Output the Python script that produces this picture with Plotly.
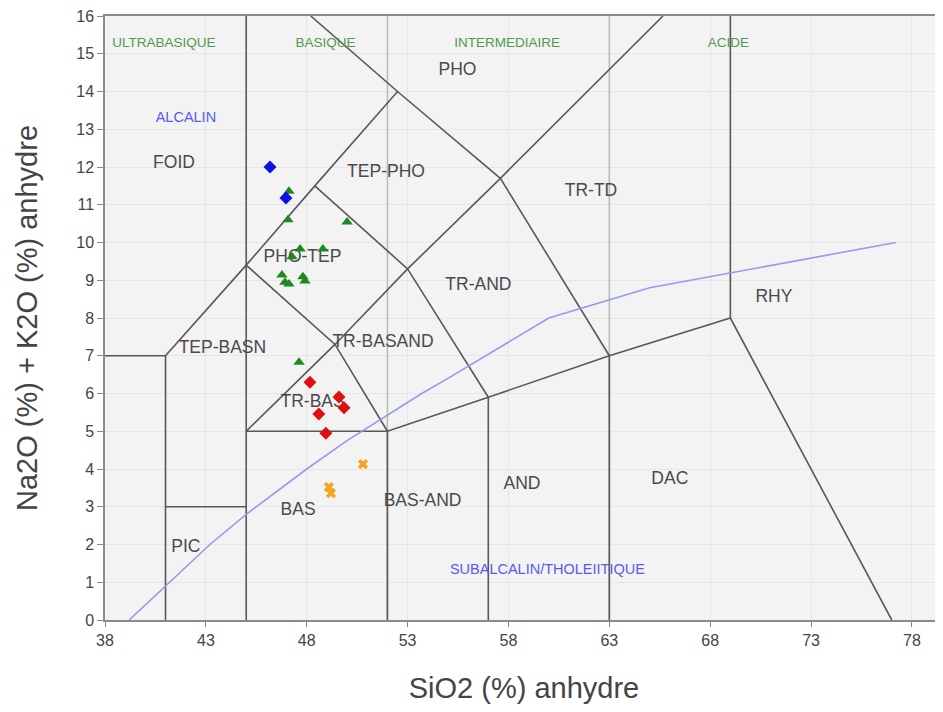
import plotly.graph_objects as go

# ---------------- data ----------------
# TAS boundary polylines (SiO2, Na2O+K2O)
bound_x = [
    [38, 41, 45, 48.4, 52.5, 57.6, 65.66],
    [48.2, 52.5],
    [41, 41],
    [41, 45],
    [45, 45],
    [45, 52, 57, 63, 69, 77.0],
    [52, 52],
    [57, 57],
    [63, 63],
    [69, 69],
    [45, 49.4, 53, 57.6],
    [45, 49.4, 52],
    [48.4, 53, 57],
    [57.6, 63],
]
bound_y = [
    [7, 7, 9.4, 11.5, 14, 11.7, 16],
    [16, 14],
    [0, 7],
    [3, 3],
    [0, 16],
    [5, 5, 5.9, 7, 8, 0],
    [0, 5],
    [0, 5.9],
    [0, 7],
    [8, 16],
    [5, 7.3, 9.3, 11.7],
    [9.4, 7.3, 5],
    [11.5, 9.3, 5.9],
    [11.7, 7],
]

# class separators (SiO2)
class_sep = [52, 63]

# alkaline / subalkaline curve
alk_x = [39.2, 40, 43.2, 45, 48, 50, 53.7, 55, 60, 65, 77.2]
alk_y = [0, 0.4, 2, 2.8, 4, 4.75, 6, 6.4, 8, 8.8, 10]

# samples
blue_x = [46.18, 46.97]
blue_y = [12.0, 11.18]
green_x = [47.12, 47.07, 50.0, 47.67, 48.8, 47.27, 46.77, 46.92, 47.12, 47.81, 47.91, 47.62]
green_y = [11.36, 10.6, 10.54, 9.83, 9.83, 9.62, 9.14, 8.95, 8.9, 9.09, 8.98, 6.83]
red_x = [48.16, 49.6, 49.85, 48.6, 48.95]
red_y = [6.30, 5.91, 5.62, 5.46, 4.95]
orange_x = [50.79, 49.1, 49.2]
orange_y = [4.13, 3.52, 3.36]

# field labels
field_names = ["PHO", "FOID", "TEP-PHO", "TR-TD", "PHO-TEP", "TR-AND", "RHY", "TEP-BASN",
               "TR-BASAND", "TR-BAS", "AND", "DAC", "BAS-AND", "BAS", "PIC"]
field_x = [55.47, 41.42, 51.93, 62.09, 47.79, 56.51, 71.16, 43.82,
           51.78, 48.29, 58.67, 66.0, 53.74, 47.57, 42.01]
field_y = [14.54, 12.1, 11.84, 11.34, 9.59, 8.87, 8.53, 7.2,
           7.36, 5.77, 3.58, 3.73, 3.13, 2.89, 1.93]

class_names = ["ULTRABASIQUE", "BASIQUE", "INTERMEDIAIRE", "ACIDE"]
class_x = [40.92, 48.93, 57.93, 68.9]
class_y = [15.28, 15.28, 15.28, 15.28]

series_names = ["ALCALIN", "SUBALCALIN/THOLEIITIQUE"]
series_x = [42.01, 59.93]
series_y = [13.3, 1.32]

x_ticks = [38, 43, 48, 53, 58, 63, 68, 73, 78]
y_ticks = list(range(0, 17))

# ---------------- figure ----------------
fig = go.Figure()

# class separators (green)
for xv in class_sep:
    fig.add_trace(go.Scatter(x=[xv, xv], y=[0, 16], mode="lines",
                             line=dict(color="#a9c3a9", width=1.5),
                             hoverinfo="skip", showlegend=False))

# TAS boundaries
bx, by = [], []
for xs, ys in zip(bound_x, bound_y):
    bx += xs + [None]
    by += ys + [None]
fig.add_trace(go.Scatter(x=bx, y=by, mode="lines",
                         line=dict(color="#585858", width=1.6),
                         hoverinfo="skip", showlegend=False))

# alkaline curve
fig.add_trace(go.Scatter(x=alk_x, y=alk_y, mode="lines",
                         line=dict(color="#9898ee", width=1.6),
                         hoverinfo="skip", showlegend=False))

# labels
fig.add_trace(go.Scatter(x=field_x, y=field_y, mode="text", text=field_names,
                         textfont=dict(family="Liberation Sans, Arial", size=17.5, color="#4a4a4a"),
                         hoverinfo="skip", showlegend=False))
fig.add_trace(go.Scatter(x=class_x, y=class_y, mode="text", text=class_names,
                         textfont=dict(family="Liberation Sans, Arial", size=13.5, color="#4f9a4f"),
                         hoverinfo="skip", showlegend=False))
fig.add_trace(go.Scatter(x=series_x, y=series_y, mode="text", text=series_names,
                         textfont=dict(family="Liberation Sans, Arial", size=14.5, color="#5a5af0"),
                         hoverinfo="skip", showlegend=False))

# samples
fig.add_trace(go.Scatter(x=green_x, y=green_y, mode="markers",
                         marker=dict(symbol="triangle-up", size=10, color="#1c8a1c"),
                         showlegend=False))
fig.add_trace(go.Scatter(x=blue_x, y=blue_y, mode="markers",
                         marker=dict(symbol="diamond", size=10, color="#1010e6"),
                         showlegend=False))
fig.add_trace(go.Scatter(x=red_x, y=red_y, mode="markers",
                         marker=dict(symbol="diamond", size=10, color="#e01010"),
                         showlegend=False))
fig.add_trace(go.Scatter(x=orange_x, y=orange_y, mode="markers",
                         marker=dict(symbol="x", size=9, color="#f2a520"),
                         showlegend=False))

axis_font = dict(family="Liberation Sans, Arial", size=16, color="#444444")
title_font = dict(family="Liberation Sans, Arial", size=29, color="#444444")
fig.update_layout(
    width=935, height=696,
    margin=dict(l=97, r=0, t=8, b=84),
    paper_bgcolor="white",
    plot_bgcolor="#f3f3f3",
    showlegend=False,
    xaxis=dict(range=[38, 79.54], tickvals=x_ticks, ticks="outside", ticklen=5,
               tickcolor="#888888", tickfont=axis_font, automargin=False,
               ticklabeloverflow="allow",
               showgrid=True, gridcolor="#e6e6e6", gridwidth=1,
               showline=True, linecolor="#8a8a8a", linewidth=1.5, mirror=True,
               zeroline=False,
               title=dict(text="SiO2 (%) anhydre", standoff=34, font=title_font)),
    yaxis=dict(range=[0, 16], tickvals=y_ticks, ticks="outside", ticklen=6,
               tickcolor="#888888", tickfont=axis_font, automargin=False,
               ticklabeloverflow="allow",
               showgrid=True, gridcolor="#e6e6e6", gridwidth=1,
               showline=True, linecolor="#8a8a8a", linewidth=1.5, mirror=False,
               zeroline=False,
               title=dict(text="Na2O (%) + K2O (%) anhydre", standoff=30, font=title_font)),
)

fig.write_html("out.html")
